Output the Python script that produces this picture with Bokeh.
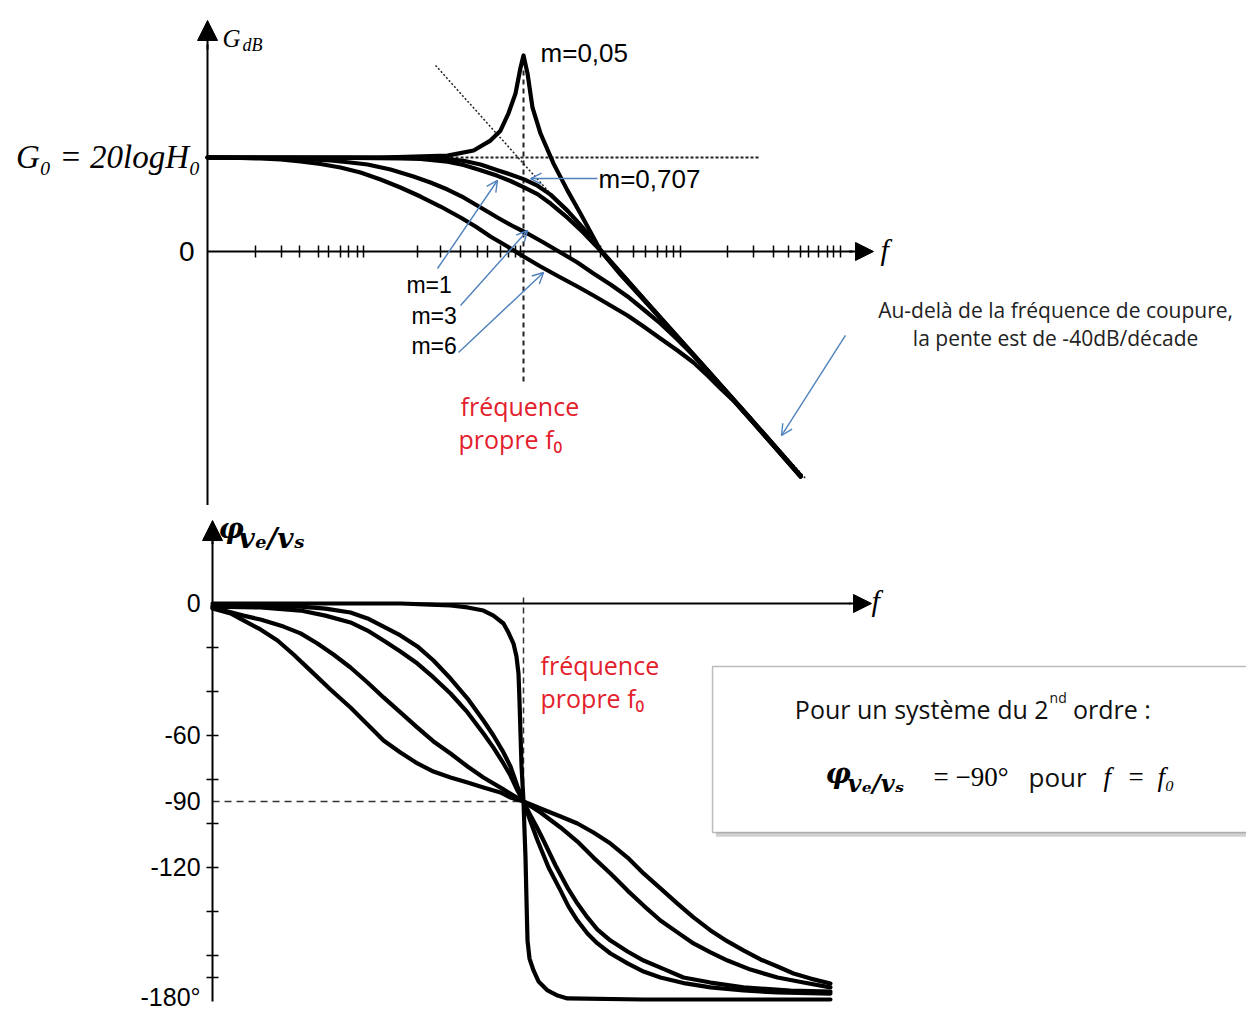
from bokeh.plotting import figure
from bokeh.models import (LinearAxis, FixedTicker, Range1d, Arrow, NormalHead,
                          OpenHead, Label, BoxAnnotation, Grid)
from bokeh.layouts import column
from bokeh.embed import file_html
from bokeh.resources import INLINE

# ------------------------------------------------------------------ data
# x values are log10(f/f0); gain in dB; phase in degrees
G0_DB = 20.0
F0_LOGF = 0.0
PHASE_F0 = -90.0

M_LABELS = ["m=0,05", "m=0,707", "m=1", "m=3", "m=6"]

gain_logf_m005 = [-1.892, -1.335, -0.856, -0.455, -0.299, -0.198, -0.138, -0.090, -0.048, -0.018,
                  0.0, 0.024, 0.054, 0.102, 0.180, 0.263, 0.341, 0.419, 0.461, 0.760, 1.060, 1.359, 1.659]
gain_db_m005 = [20.0, 20.0, 20.0, 20.4, 21.5, 23.6, 25.7, 29.4, 33.6, 39.1,
                41.7, 37.9, 30.6, 25.1, 18.7, 13.0, 8.1, 3.0, 0.2, -11.7, -23.6, -35.5, -47.7]

gain_logf_m0707 = [-1.892, -0.737, -0.497, -0.359, -0.257, -0.156, -0.078, 0.0, 0.084, 0.162,
                   0.263, 0.359, 0.443, 0.760, 1.060, 1.359, 1.659]
gain_db_m0707 = [20.0, 20.0, 19.8, 19.3, 18.5, 17.3, 16.4, 15.4, 14.0, 12.1,
                 8.7, 4.9, 1.1, -11.7, -23.6, -35.5, -47.7]

gain_logf_m1 = [-1.892, -1.036, -0.737, -0.617, -0.455, -0.359, -0.257, -0.156, -0.078, 0.0, 0.084,
                0.162, 0.263, 0.359, 0.461, 0.581, 0.760, 1.060, 1.359, 1.659]
gain_db_m1 = [20.0, 19.9, 19.8, 19.7, 19.1, 18.4, 17.3, 16.1, 15.0, 13.7, 12.2,
              10.2, 7.2, 4.0, 0.2, -4.9, -11.9, -23.8, -35.7, -47.9]

gain_logf_m3 = [-1.892, -1.575, -1.395, -1.275, -1.156, -1.036, -0.934, -0.796, -0.659, -0.557,
                -0.455, -0.359, -0.257, -0.156, -0.060, 0.024, 0.120, 0.222, 0.323, 0.419,
                0.521, 0.623, 0.719, 0.820, 0.922, 1.018, 1.102, 1.180, 1.359, 1.659]
gain_db_m3 = [20.0, 19.89, 19.79, 19.57, 19.36, 18.94, 18.51, 17.45, 15.96, 14.68,
              13.19, 11.49, 9.36, 7.23, 5.32, 3.83, 1.91, -0.21, -2.34, -4.68,
              -7.02, -9.57, -12.34, -15.32, -18.72, -22.13, -25.32, -28.51, -35.74, -47.87]

gain_logf_m6 = [-1.892, -1.695, -1.575, -1.455, -1.335, -1.216, -1.096, -0.976, -0.856, -0.737,
                -0.617, -0.497, -0.377, -0.287, -0.198, -0.096, 0.0, 0.102, 0.222, 0.323,
                0.419, 0.521, 0.623, 0.719, 0.820, 0.922, 1.018, 1.102, 1.180, 1.269, 1.359, 1.509, 1.659]
gain_db_m6 = [20.0, 19.89, 19.79, 19.57, 19.15, 18.62, 17.87, 16.81, 15.32, 13.62,
              11.70, 9.57, 7.23, 5.32, 3.19, 1.06, -1.06, -3.19, -5.53, -7.45,
              -9.36, -11.49, -13.62, -15.96, -18.51, -21.06, -23.62, -26.38, -29.15, -32.13, -35.74, -41.70, -47.87]

asym_logf = [-0.527, 1.689]
asym_db = [39.6, -48.3]

phase_logf_m005 = [-1.862, -0.737, -0.557, -0.437, -0.335, -0.240, -0.180, -0.120, -0.090, -0.060,
                   -0.042, -0.030, -0.024, -0.018, -0.012, 0.0, 0.006, 0.012, 0.018, 0.024,
                   0.036, 0.060, 0.090, 0.144, 0.204, 0.263, 0.719, 1.838]
phase_deg_m005 = [0.0, 0.0, -0.5, -0.9, -1.8, -3.2, -5.5, -9.1, -13.2, -18.2,
                  -24.1, -31.8, -44.1, -59.1, -73.6, -90.0, -103.2, -115.5, -135.0, -153.2,
                  -161.4, -166.8, -171.8, -175.9, -178.2, -179.5, -180.0, -180.0]

phase_logf_m0707 = [-1.862, -1.575, -1.335, -1.186, -1.036, -0.934, -0.838, -0.737, -0.635, -0.539,
                    -0.437, -0.335, -0.240, -0.180, -0.120, -0.078, -0.036, 0.0,
                    0.042, 0.084, 0.150, 0.222, 0.269, 0.323, 0.383, 0.443, 0.521, 0.623,
                    0.719, 0.820, 0.970, 1.120, 1.317, 1.521, 1.838]
phase_deg_m0707 = [-0.9, -0.9, -1.4, -2.3, -4.1, -6.8, -10.5, -14.5, -19.5, -25.9,
                   -34.1, -43.2, -53.2, -60.0, -67.7, -74.1, -83.2, -90.0,
                   -99.1, -107.7, -120.0, -130.5, -137.7, -144.1, -150.0, -154.5, -159.1, -163.6,
                   -167.3, -170.0, -172.7, -174.5, -175.9, -176.8, -177.3]

phase_logf_m1 = [-1.862, -1.575, -1.335, -1.186, -1.036, -0.934, -0.838, -0.737, -0.635, -0.539,
                 -0.437, -0.335, -0.240, -0.180, -0.120, -0.078, -0.036, 0.0,
                 0.042, 0.084, 0.120, 0.192, 0.263, 0.323, 0.383, 0.443, 0.521, 0.623,
                 0.719, 0.820, 0.958, 1.120, 1.317, 1.599, 1.838]
phase_deg_m1 = [-1.4, -1.8, -3.2, -5.5, -8.6, -12.3, -16.8, -21.8, -27.3, -33.6,
                -40.9, -49.5, -59.1, -65.5, -72.7, -78.2, -85.0, -90.0,
                -96.4, -102.3, -107.7, -119.1, -129.1, -136.4, -142.7, -148.2, -153.2, -158.2,
                -162.3, -165.5, -170.0, -172.3, -174.5, -175.9, -176.4]

phase_logf_m3 = [-1.862, -1.677, -1.575, -1.437, -1.335, -1.234, -1.138, -1.036, -0.934, -0.838,
                 -0.737, -0.635, -0.539, -0.437, -0.335, -0.240, -0.120, 0.0,
                 0.102, 0.222, 0.323, 0.419, 0.521, 0.623, 0.719, 0.820, 0.922, 1.018,
                 1.120, 1.222, 1.359, 1.521, 1.677, 1.838]
phase_deg_m3 = [-1.8, -5.5, -7.3, -10.5, -13.6, -18.2, -23.2, -29.1, -35.9, -42.7,
                -49.5, -56.4, -62.7, -68.2, -74.1, -79.1, -84.5, -90.0,
                -95.0, -101.8, -108.2, -115.5, -122.7, -130.5, -137.3, -144.1, -149.5, -154.5,
                -158.6, -162.3, -166.4, -170.0, -172.3, -174.5]

phase_logf_m6 = [-1.862, -1.754, -1.677, -1.575, -1.473, -1.377, -1.275, -1.156, -1.036, -0.934,
                 -0.838, -0.737, -0.635, -0.539, -0.437, -0.335, -0.240, -0.138, -0.078, 0.0,
                 0.132, 0.222, 0.323, 0.419, 0.521, 0.623, 0.719, 0.820, 0.922, 1.018,
                 1.120, 1.222, 1.317, 1.419, 1.521, 1.617, 1.719, 1.838]
phase_deg_m6 = [-2.3, -4.5, -7.7, -11.8, -16.8, -23.2, -30.5, -39.1, -47.3, -55.0,
                -62.3, -67.7, -72.7, -76.4, -79.1, -81.4, -83.6, -85.9, -88.2, -90.0,
                -94.1, -96.8, -100.0, -104.1, -109.1, -115.5, -122.7, -129.5, -136.4, -142.7,
                -148.6, -153.6, -157.7, -161.8, -165.0, -168.2, -170.5, -172.7]

# tick marks drawn on the frequency axis of the gain plot (log10(f/f0))
FREQ_TICKS = [-1.605, -1.449, -1.341, -1.228, -1.168, -1.096, -1.048, -0.994, -0.958,
              -0.635, -0.497, -0.377, -0.275, -0.216, -0.138, -0.090, -0.048, -0.018,
              0.281, 0.461, 0.563, 0.659, 0.731, 0.802, 0.856, 0.898, 0.940,
              1.222, 1.377, 1.497, 1.587, 1.659, 1.707, 1.766, 1.820, 1.856, 1.898]
PHASE_LABELS = {0: "0", -60: "-60", -90: "-90", -120: "-120", -180: "-180°"}
PHASE_MINOR_TICKS = [-20, -40, -60, -80, -100, -120, -140, -160, -170]

# ------------------------------------------------------------------ style
BLUE = "#4F81BD"
RED = "#E3202B"
SANS = "Liberation Sans"
SERIF = "Liberation Serif"
HAND = "Open Sans"
X_RANGE = (-3.13174, 4.32934)
TOP_AXIS_X = -1.892
BOT_AXIS_X = -1.862
CURVE_W = 4.2


def make_fig(height, y0, y1):
    p = figure(width=1246, height=height, x_range=Range1d(*X_RANGE), y_range=Range1d(y0, y1),
               output_backend="svg", toolbar_location=None, x_axis_location=None,
               y_axis_location=None, min_border=0, title=None)
    p.outline_line_color = None
    p.background_fill_color = "white"
    p.border_fill_color = "white"
    p.center = [c for c in p.center if not isinstance(c, Grid)]
    return p


def label(p, x, y, text, size, font=SANS, style="normal", color="black",
          align="left", baseline="middle"):
    p.add_layout(Label(x=x, y=y, text=text, text_font=font, text_font_size=f"{size}px",
                       text_font_style=style, text_color=color, text_align=align,
                       text_baseline=baseline))


def blue_arrow(p, x0, y0, x1, y1):
    p.add_layout(Arrow(x_start=x0, y_start=y0, x_end=x1, y_end=y1, line_color=BLUE,
                       line_width=1.4, end=OpenHead(size=11, line_color=BLUE, line_width=1.4)))


# ------------------------------------------------------------------ gain plot
top = make_fig(505, -54.043, 53.404)

xa = LinearAxis(fixed_location=0, ticker=FixedTicker(ticks=[], minor_ticks=FREQ_TICKS),
                bounds=(TOP_AXIS_X, 1.97), axis_line_width=2, axis_line_color="black",
                major_tick_in=0, major_tick_out=0, minor_tick_in=6, minor_tick_out=6,
                minor_tick_line_width=1.5, minor_tick_line_color="black",
                major_label_text_font_size="0px")
top.add_layout(xa, "below")
ya = LinearAxis(fixed_location=TOP_AXIS_X, ticker=FixedTicker(ticks=[0]),
                bounds=(-54.1, 44.0), axis_line_width=2, major_tick_in=0, major_tick_out=0,
                major_label_standoff=13, major_label_overrides={0: "0"},
                major_label_text_color="black",
                major_label_text_font=SANS, major_label_text_font_size="28px")
top.add_layout(ya, "left")
yb = LinearAxis(fixed_location=TOP_AXIS_X, ticker=FixedTicker(ticks=[G0_DB]),
                axis_line_color=None, major_tick_in=0, major_tick_out=0,
                major_label_standoff=7, major_label_overrides={G0_DB: "G₀ = 20logH₀"},
                major_label_text_color="black",
                major_label_text_font=SERIF, major_label_text_font_style="italic",
                major_label_text_font_size="33px")
top.add_layout(yb, "left")
top.add_layout(Arrow(x_start=TOP_AXIS_X, y_start=43.0, x_end=TOP_AXIS_X, y_end=49.15,
                     line_width=2, end=NormalHead(size=20, fill_color="black", line_color="black")))
top.add_layout(Arrow(x_start=1.95, y_start=0, x_end=2.096, y_end=0, line_width=2,
                     end=NormalHead(size=18, fill_color="black", line_color="black")))

# reference lines
top.line([F0_LOGF, F0_LOGF], [38.5, -28.3], line_color="#222", line_width=2, line_dash="5 4")
top.line([-0.497, 1.419], [G0_DB, G0_DB], line_color="#222", line_width=2, line_dash="3 2")
top.line(asym_logf, asym_db, line_color="#222", line_width=1.5, line_dash="2 2")

for xs, ys in [(gain_logf_m6, gain_db_m6), (gain_logf_m3, gain_db_m3),
               (gain_logf_m1, gain_db_m1), (gain_logf_m0707, gain_db_m0707),
               (gain_logf_m005, gain_db_m005)]:
    top.line(xs, ys, line_color="black", line_width=CURVE_W, line_join="round", line_cap="round")

label(top, -1.802, 45.3, "G", 25, SERIF, "italic", baseline="alphabetic")
label(top, -1.683, 44.0, "dB", 18, SERIF, "italic", baseline="alphabetic")
label(top, 2.138, 0.43, "f", 30, SERIF, "italic")
label(top, 0.102, 42.34, M_LABELS[0], 26)
label(top, 0.449, 15.53, M_LABELS[1], 26)
label(top, -0.701, -7.23, M_LABELS[2], 23)
label(top, -0.671, -13.83, M_LABELS[3], 23)
label(top, -0.671, -20.21, M_LABELS[4], 23)
label(top, -0.377, -32.77, "fréquence", 25, HAND, color=RED)
label(top, -0.389, -39.79, "propre f₀", 25, HAND, color=RED)
label(top, 3.186, -12.55, "Au-delà de la fréquence de coupure,", 21, HAND, color="#222", align="center")
label(top, 3.186, -18.51, "la pente est de -40dB/décade", 21, HAND, color="#222", align="center")

blue_arrow(top, 0.443, 15.53, 0.042, 15.53)
blue_arrow(top, -0.515, -3.62, -0.156, 15.11)
blue_arrow(top, -0.377, -11.49, 0.024, 4.47)
blue_arrow(top, -0.389, -21.49, 0.120, -4.47)
blue_arrow(top, 1.928, -17.87, 1.545, -39.15)

# ------------------------------------------------------------------ phase plot
bot = make_fig(505, -185.0, 44.545)

bxa = LinearAxis(fixed_location=0, ticker=FixedTicker(ticks=[]), bounds=(BOT_AXIS_X, 1.96),
                 axis_line_width=2, major_tick_in=0, major_tick_out=0,
                 major_label_text_font_size="0px")
bot.add_layout(bxa, "below")
bya = LinearAxis(fixed_location=BOT_AXIS_X,
                 ticker=FixedTicker(ticks=list(PHASE_LABELS.keys()), minor_ticks=PHASE_MINOR_TICKS),
                 bounds=(-181.0, 28.0), axis_line_width=2, major_tick_in=0, major_tick_out=0,
                 minor_tick_in=6, minor_tick_out=6, minor_tick_line_width=1.5,
                 minor_tick_line_color="black", major_label_standoff=6,
                 major_label_overrides=PHASE_LABELS, major_label_text_font=SANS,
                 major_label_text_color="black", major_label_text_font_size="25px")
bot.add_layout(bya, "left")
bot.add_layout(Arrow(x_start=BOT_AXIS_X, y_start=27.0, x_end=BOT_AXIS_X, y_end=37.7,
                     line_width=2, end=NormalHead(size=20, fill_color="black", line_color="black")))
bot.add_layout(Arrow(x_start=1.95, y_start=0, x_end=2.084, y_end=0, line_width=2,
                     end=NormalHead(size=18, fill_color="black", line_color="black")))

bot.line([F0_LOGF, F0_LOGF], [2.7, PHASE_F0], line_color="#333", line_width=1.5, line_dash="6 4")
bot.line([BOT_AXIS_X, F0_LOGF], [PHASE_F0, PHASE_F0], line_color="#333", line_width=1.5, line_dash="7 5")

for xs, ys in [(phase_logf_m6, phase_deg_m6), (phase_logf_m3, phase_deg_m3),
               (phase_logf_m1, phase_deg_m1), (phase_logf_m0707, phase_deg_m0707),
               (phase_logf_m005, phase_deg_m005)]:
    bot.line(xs, ys, line_color="black", line_width=CURVE_W, line_join="round", line_cap="round")

label(bot, -1.826, 34.09, "φ", 28, "DejaVu Serif", "bold italic", baseline="alphabetic")
label(bot, -1.707, 29.55, "vₑ/vₛ", 28, "DejaVu Serif", "bold italic", baseline="alphabetic")
label(bot, 2.084, 1.36, "f", 30, SERIF, "italic")
label(bot, 0.102, -27.73, "fréquence", 25, HAND, color=RED)
label(bot, 0.102, -43.18, "propre f₀", 25, HAND, color=RED)

# note box with shadow
bot.add_layout(BoxAnnotation(left=1.152, right=4.6, top=-30.8, bottom=-106.0,
                             fill_color="#9a9a9a", fill_alpha=0.45, line_color=None))
bot.add_layout(BoxAnnotation(left=1.132, right=4.6, top=-28.6, bottom=-104.1,
                             fill_color="white", fill_alpha=1.0, line_color="#222", line_width=1.5))

label(bot, 3.144, -47.73, "Pour un système du 2", 25, HAND, color="#111", align="right", baseline="alphabetic")
label(bot, 3.150, -42.73, "nd", 14, HAND, color="#111", baseline="alphabetic")
label(bot, 3.290, -47.73, "ordre :", 25, HAND, color="#111", baseline="alphabetic")
label(bot, 1.808, -77.27, "φ", 28, "DejaVu Serif", "bold italic", baseline="alphabetic")
label(bot, 1.940, -81.82, "vₑ/vₛ", 24, "DejaVu Serif", "bold italic", baseline="alphabetic")
label(bot, 2.455, -79.09, "= −90°", 27, SERIF, baseline="alphabetic")
label(bot, 3.024, -79.09, "pour", 26, HAND, color="#111", baseline="alphabetic")
label(bot, 3.473, -79.09, "f", 27, SERIF, "italic", baseline="alphabetic")
label(bot, 3.623, -79.09, "=", 27, SERIF, baseline="alphabetic")
label(bot, 3.796, -79.09, "f₀", 27, SERIF, "italic", baseline="alphabetic")

layout = column(top, bot, spacing=0)
open("out.html", "w").write(file_html(layout, INLINE))
